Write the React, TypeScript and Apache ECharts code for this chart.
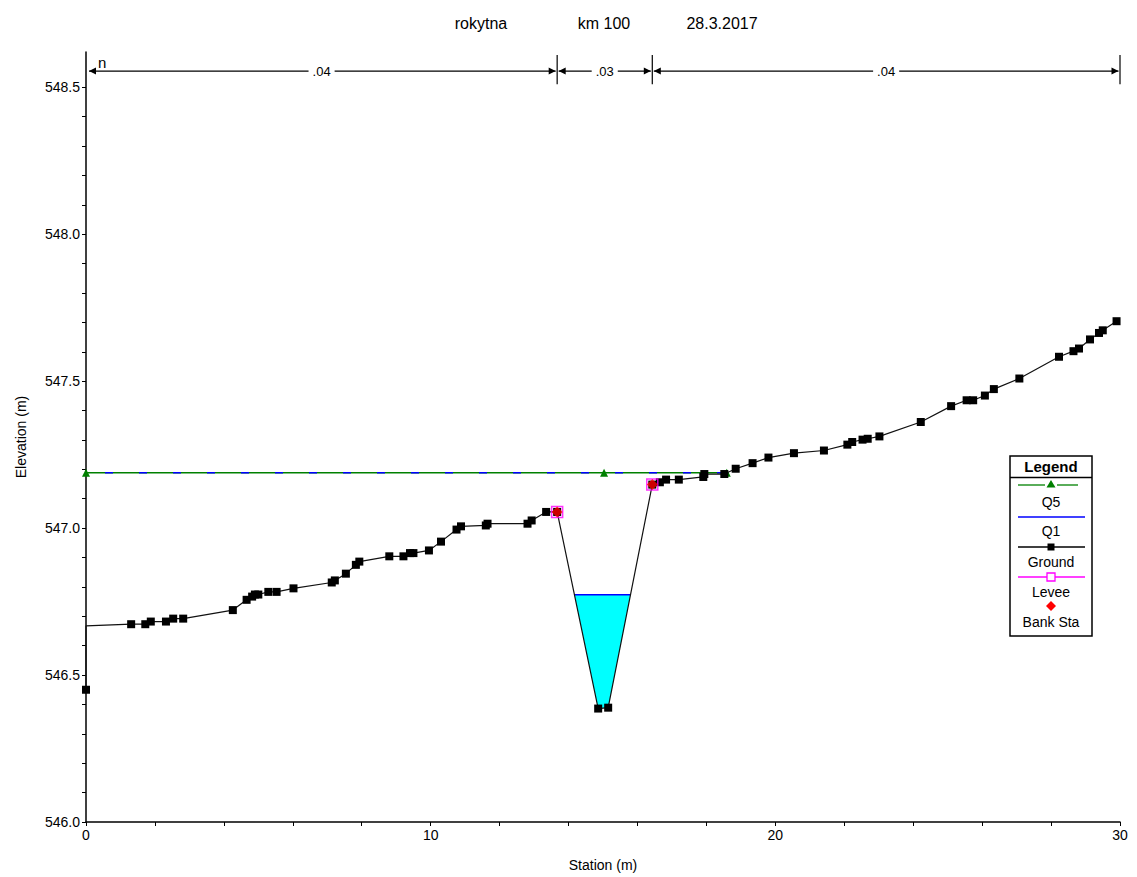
import React, { useEffect, useRef } from 'react';
import * as echarts from 'echarts';

// ---------- data ----------
const groundStation = [
  0, 0, 1.31, 1.72, 1.88, 2.32, 2.53, 2.82, 4.26, 4.66, 4.82, 4.9, 5.0, 5.29, 5.53, 6.02,
  7.13, 7.22, 7.54, 7.83, 7.93, 8.8, 9.21, 9.4, 9.5, 9.95, 10.3, 10.75, 10.88, 11.6, 11.65,
  12.81, 12.93, 13.35, 13.67, 14.86, 15.15, 16.43, 16.65, 16.83, 17.2, 17.91, 17.94, 18.52,
  18.85, 19.34, 19.8, 20.54, 21.41, 22.09, 22.23, 22.53, 22.68, 23.02, 24.22, 25.1, 25.55,
  25.74, 26.08, 26.34, 27.08, 28.23, 28.65, 28.81, 29.13, 29.39, 29.5, 29.9,
];
const groundElev = [
  546.45, 546.667, 546.673, 546.673, 546.682, 546.682, 546.692, 546.692, 546.721, 546.756,
  546.767, 546.774, 546.774, 546.783, 546.783, 546.795, 546.815, 546.822, 546.845, 546.875,
  546.886, 546.904, 546.904, 546.915, 546.915, 546.924, 546.954, 546.995, 547.006, 547.009,
  547.015, 547.015, 547.026, 547.055, 547.055, 546.386, 546.389, 547.148, 547.156, 547.165,
  547.165, 547.174, 547.184, 547.184, 547.202, 547.221, 547.24, 547.255, 547.264, 547.284,
  547.293, 547.301, 547.304, 547.312, 547.361, 547.415, 547.435, 547.435, 547.451, 547.473,
  547.509, 547.583, 547.602, 547.611, 547.642, 547.664, 547.673, 547.704,
];
const hiddenMarkerIndex = [1];
const bankStations = [13.67, 16.43];
const q1Ws = 546.773;
const q5Ws = 547.188;
const q5Stations = [0, 15.03, 18.59];
const nStations = [0, 13.67, 16.43, 30];
const nValues = ['.04', '.03', '.04'];
const nLineElev = 548.555;
const nTopElev = 548.61;
const nBottomElev = 548.51;
const titleParts = ['rokytna', 'km 100', '28.3.2017'];
const xTicks = [0, 2, 4, 6, 8, 10, 12, 14, 16, 18, 20, 22, 24, 26, 28, 30];
const xLabels = [0, 10, 20, 30];
const yTicks = [
  546.0, 546.1, 546.2, 546.3, 546.4, 546.5, 546.6, 546.7, 546.8, 546.9, 547.0, 547.1, 547.2,
  547.3, 547.4, 547.5, 547.6, 547.7, 547.8, 547.9, 548.0, 548.1, 548.2, 548.3, 548.4, 548.5,
];
const yLabels = [546.0, 546.5, 547.0, 547.5, 548.0, 548.5];
const legendItems = ['Q5', 'Q1', 'Ground', 'Levee', 'Bank Sta'];

const FONT = '"Liberation Sans", Arial, sans-serif';

function groundAt(st: number): number {
  const i = groundStation.indexOf(st);
  return groundElev[i];
}

function crossings(ws: number, lo: number, hi: number): number[] {
  const res: number[] = [];
  for (let i = 0; i < groundStation.length - 1; i++) {
    const x0 = groundStation[i], x1 = groundStation[i + 1];
    const y0 = groundElev[i], y1 = groundElev[i + 1];
    if (x0 < lo || x1 > hi) continue;
    if ((y0 - ws) * (y1 - ws) < 0) res.push(x0 + ((ws - y0) / (y1 - y0)) * (x1 - x0));
  }
  return res;
}

export default function App() {
  const ref = useRef<HTMLDivElement>(null);
  useEffect(() => {
    document.body.style.margin = '0';
    if (!ref.current) return;
    const chart = echarts.init(ref.current, null, { renderer: 'svg' });

    const cr = crossings(q1Ws, bankStations[0], bankStations[1]);
    const xl = cr[0], xr = cr[cr.length - 1];
    const waterPoly: number[][] = [[xl, q1Ws]];
    groundStation.forEach((s, i) => {
      if (s > xl && s < xr) waterPoly.push([s, groundElev[i]]);
    });
    waterPoly.push([xr, q1Ws]);

    const groundData = groundStation.map((s, i) =>
      hiddenMarkerIndex.includes(i)
        ? { value: [s, groundElev[i]], symbol: 'none' }
        : { value: [s, groundElev[i]] }
    );
    const bankData = bankStations.map((s) => [s, groundAt(s)]);

    // legend graphic
    const lx = 1010, ly = 456, lw = 82, lh = 180;
    const cx = lx + lw / 2;
    const txt = (t: string, y: number, bold = false, size = 14) => ({
      type: 'text',
      x: cx,
      y,
      style: { text: t, fill: '#000', font: `${bold ? 'bold ' : ''}${size}px ${FONT}`, align: 'center', verticalAlign: 'middle' },
    });
    const hline = (y: number, x1: number, x2: number, color: string, w = 1.3) => ({
      type: 'line',
      shape: { x1, y1: y, x2, y2: y },
      style: { stroke: color, lineWidth: w },
    });
    const legendChildren: any[] = [
      { type: 'rect', shape: { x: lx, y: ly, width: lw, height: lh }, style: { fill: '#fff', stroke: '#000', lineWidth: 1.5 } },
      hline(ly + 21.5, lx, lx + lw, '#000', 1.5),
      txt('Legend', ly + 10.5, true, 15),
      hline(485, 1018, 1045, '#008000'),
      hline(485, 1057, 1078, '#008000'),
      { type: 'polygon', shape: { points: [[cx, 480], [cx - 4.5, 487.5], [cx + 4.5, 487.5]] }, style: { fill: '#008000' } },
      txt(legendItems[0], 502),
      hline(517, 1018, 1085, '#0000FF'),
      txt(legendItems[1], 531),
      hline(547, 1018, 1085, '#000'),
      { type: 'rect', shape: { x: cx - 3.5, y: 543.5, width: 7, height: 7 }, style: { fill: '#000' } },
      txt(legendItems[2], 562),
      hline(577, 1018, 1085, '#FF00FF'),
      { type: 'rect', shape: { x: cx - 4, y: 573, width: 8, height: 8 }, style: { fill: '#fff', stroke: '#FF00FF', lineWidth: 1.3 } },
      txt(legendItems[3], 592),
      { type: 'polygon', shape: { points: [[cx, 601], [cx + 5, 606], [cx, 611], [cx - 5, 606]] }, style: { fill: '#FF0000' } },
      txt(legendItems[4], 622),
    ];

    const titleX = [481, 604, 722];

    chart.setOption({
      animation: false,
      backgroundColor: '#fff',
      grid: { left: 86, right: 17, top: 52, bottom: 55, containLabel: false },
      xAxis: {
        type: 'value',
        min: 0,
        max: 30,
        interval: 2,
        name: 'Station (m)',
        nameLocation: 'middle',
        nameGap: 36,
        nameTextStyle: { fontFamily: FONT, fontSize: 14, color: '#000' },
        axisLine: { show: true, lineStyle: { color: '#000', width: 1.5 } },
        axisTick: { show: true, length: 4, lineStyle: { color: '#000' }, customValues: xTicks },
        axisLabel: { fontFamily: FONT, fontSize: 14, color: '#000', margin: 6, customValues: xLabels },
        splitLine: { show: false },
      },
      yAxis: {
        type: 'value',
        min: 546,
        max: 548.62,
        interval: 0.1,
        name: 'Elevation (m)',
        nameLocation: 'middle',
        nameRotate: 90,
        nameGap: 58,
        nameTextStyle: { fontFamily: FONT, fontSize: 14, color: '#000' },
        axisLine: { show: true, lineStyle: { color: '#000', width: 1.5 } },
        axisTick: { show: true, length: 4, lineStyle: { color: '#000' }, customValues: yTicks },
        axisLabel: {
          fontFamily: FONT,
          fontSize: 14,
          color: '#000',
          margin: 6,
          customValues: yLabels,
          formatter: (v: number) => v.toFixed(1),
        },
        splitLine: { show: false },
      },
      graphic: [
        ...titleParts.map((t, i) => ({
          type: 'text',
          x: titleX[i],
          y: 23,
          style: { text: t, fill: '#000', font: `16px ${FONT}`, align: 'center', verticalAlign: 'middle' },
        })),
        {
          type: 'text',
          x: 98,
          y: 62,
          style: { text: 'n', fill: '#000', font: `15px ${FONT}`, align: 'left', verticalAlign: 'middle' },
        },
        { type: 'group', children: legendChildren, z: 100 },
      ],
      series: [
        {
          type: 'custom',
          name: 'water',
          coordinateSystem: 'cartesian2d',
          data: [[xl, q1Ws]],
          z: 1,
          renderItem: (_p: any, api: any) => ({
            type: 'polygon',
            shape: { points: waterPoly.map((p) => api.coord(p)) },
            style: { fill: '#00FFFF' },
          }),
        },
        {
          type: 'line',
          name: 'Q1',
          data: [[xl, q1Ws], [xr, q1Ws]],
          symbol: 'none',
          lineStyle: { color: '#0000FF', width: 1.5 },
          z: 2,
        },
        {
          type: 'line',
          name: 'Q5',
          data: q5Stations.map((s) => [s, q5Ws]),
          symbol: 'triangle',
          symbolSize: 8,
          showAllSymbol: true,
          itemStyle: { color: '#008000' },
          lineStyle: { color: '#008000', width: 1.5 },
          z: 3,
        },
        {
          type: 'line',
          name: 'Q5 dash',
          data: [[0, q5Ws], [q5Stations[q5Stations.length - 1], q5Ws]],
          symbol: 'none',
          lineStyle: { color: '#0000FF', width: 1.5, type: [8, 26], dashOffset: -19 },
          z: 4,
        },
        {
          type: 'line',
          name: 'Ground',
          data: groundData,
          symbol: 'rect',
          symbolSize: 8,
          showAllSymbol: true,
          itemStyle: { color: '#000' },
          lineStyle: { color: '#111', width: 1.2 },
          z: 5,
        },
        {
          type: 'scatter',
          name: 'Levee',
          data: bankData,
          symbol: 'rect',
          symbolSize: 11,
          itemStyle: { color: 'rgba(0,0,0,0)', borderColor: '#FF00FF', borderWidth: 1.5 },
          z: 6,
        },
        {
          type: 'scatter',
          name: 'Bank Sta',
          data: bankData,
          symbol: 'diamond',
          symbolSize: 11,
          itemStyle: { color: '#FF0000' },
          z: 7,
        },
        {
          type: 'custom',
          name: 'n',
          coordinateSystem: 'cartesian2d',
          clip: false,
          data: nValues.map((_v, i) => [nStations[i], nLineElev]),
          z: 8,
          renderItem: (params: any, api: any) => {
            const i = params.dataIndex;
            const p0 = api.coord([nStations[i], nLineElev]);
            const p1 = api.coord([nStations[i + 1], nLineElev]);
            const top = api.coord([nStations[i + 1], nTopElev])[1];
            const bot = api.coord([nStations[i + 1], nBottomElev])[1];
            const y = p0[1];
            const a0 = p0[0] + (i === 0 ? 3 : 1.5);
            const a1 = p1[0] - 1.5;
            return {
              type: 'group',
              children: [
                { type: 'line', shape: { x1: a0, y1: y, x2: a1, y2: y }, style: { stroke: '#000', lineWidth: 1.3 } },
                { type: 'polygon', shape: { points: [[a0, y], [a0 + 7, y - 3.5], [a0 + 7, y + 3.5]] }, style: { fill: '#000' } },
                { type: 'polygon', shape: { points: [[a1, y], [a1 - 7, y - 3.5], [a1 - 7, y + 3.5]] }, style: { fill: '#000' } },
                { type: 'line', shape: { x1: p1[0], y1: top, x2: p1[0], y2: bot }, style: { stroke: '#000', lineWidth: 1.2 } },
                {
                  type: 'text',
                  x: (p0[0] + p1[0]) / 2,
                  y,
                  style: {
                    text: nValues[i],
                    fill: '#000',
                    font: `13px ${FONT}`,
                    align: 'center',
                    verticalAlign: 'middle',
                    backgroundColor: '#fff',
                    padding: [1, 4],
                  },
                },
              ],
            };
          },
        },
      ],
    });
    return () => chart.dispose();
  }, []);
  return <div ref={ref} style={{ width: 1137, height: 877 }} />;
}
